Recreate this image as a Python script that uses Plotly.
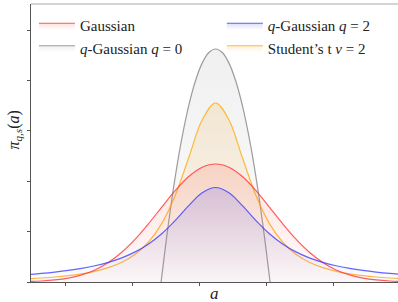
import plotly.graph_objects as go

# shared x grid (data units) for the three full-support curves
x_grid = [-2.56, -2.36, -2.16, -1.96, -1.76, -1.56, -1.36, -1.16, -0.96, -0.76,
          -0.56, -0.36, -0.16, 0.04, 0.24, 0.44, 0.64, 0.84, 1.04, 1.24,
          1.44, 1.64, 1.84, 2.04, 2.24, 2.44, 2.64, 2.84, 3.04]

gauss = [0.0094, 0.0201, 0.0407, 0.0777, 0.1404, 0.2395, 0.387, 0.590, 0.850, 1.158,
         1.492, 1.817, 2.092, 2.276, 2.341, 2.276, 2.092, 1.817, 1.492, 1.158,
         0.850, 0.590, 0.387, 0.2395, 0.1404, 0.0777, 0.0407, 0.0201, 0.0094]

qgauss2 = [0.1484, 0.1700, 0.1964, 0.2292, 0.2704, 0.3228, 0.3908, 0.4798, 0.5978, 0.7549,
           0.9617, 1.222, 1.515, 1.770, 1.875, 1.770, 1.515, 1.222, 0.9617, 0.7549,
           0.5978, 0.4798, 0.3908, 0.3228, 0.2704, 0.2292, 0.1964, 0.1700, 0.1484]

student_t = [0.0647, 0.0795, 0.0990, 0.1253, 0.1613, 0.2117, 0.2839, 0.3902, 0.5497, 0.794,
             1.169, 1.727, 2.469, 3.216, 3.552, 3.216, 2.469, 1.727, 1.169, 0.794,
             0.5497, 0.3902, 0.2839, 0.2117, 0.1613, 0.1253, 0.0990, 0.0795, 0.0647]

# compact-support q-Gaussian (q = 0)
x_q0 = [-0.573, -0.56, -0.46, -0.36, -0.26, -0.16, -0.06, 0.04, 0.14, 0.24,
        0.34, 0.44, 0.54, 0.64, 0.74, 0.84, 0.94, 1.04, 1.053]
qgauss0 = [0.0, 0.1466, 1.196, 2.105, 2.874, 3.504, 3.994, 4.343, 4.553, 4.623,
           4.553, 4.343, 3.994, 3.504, 2.874, 2.105, 1.196, 0.1466, 0.0]

x_ticks = [-2, -1, 0, 1, 2]
y_ticks = [0, 1, 2, 3, 4, 5]

names = {
    "gauss": "Gaussian",
    "q0": "<i>q</i>-Gaussian <i>q</i> = 0",
    "q2": "<i>q</i>-Gaussian <i>q</i> = 2",
    "t": "Student\u2019s t <i>\u03bd</i> = 2",
}


def grad(rgb, a):
    r, g, b = rgb
    return dict(type="vertical",
                colorscale=[[0, f"rgba({r},{g},{b},0.02)"], [1, f"rgba({r},{g},{b},{a})"]])


fig = go.Figure()
fig.add_trace(go.Scatter(x=x_q0, y=qgauss0, mode="lines", name=names["q0"],
                         legend="legend", legendrank=2,
                         line=dict(color="rgba(140,140,140,0.85)", width=1.2, shape="spline"),
                         fill="tozeroy", fillgradient=grad((160, 160, 160), 0.16)))
fig.add_trace(go.Scatter(x=x_grid, y=student_t, mode="lines", name=names["t"],
                         legend="legend2", legendrank=2,
                         line=dict(color="rgba(255,165,0,0.75)", width=1.2, shape="spline"),
                         fill="tozeroy", fillgradient=grad((240, 170, 60), 0.18)))
fig.add_trace(go.Scatter(x=x_grid, y=gauss, mode="lines", name=names["gauss"],
                         legend="legend", legendrank=1,
                         line=dict(color="rgba(255,40,40,0.75)", width=1.2, shape="spline"),
                         fill="tozeroy", fillgradient=grad((250, 90, 70), 0.18)))
fig.add_trace(go.Scatter(x=x_grid, y=qgauss2, mode="lines", name=names["q2"],
                         legend="legend2", legendrank=1,
                         line=dict(color="rgba(50,50,255,0.75)", width=1.2, shape="spline"),
                         fill="tozeroy", fillgradient=grad((90, 90, 255), 0.2)))

axis_common = dict(showgrid=False, zeroline=False, showline=True, linecolor="#555",
                   linewidth=1, ticks="outside", ticklen=3, tickcolor="#555",
                   tickwidth=1, showticklabels=False)

legend_common = dict(orientation="v", yanchor="top", xanchor="left", bgcolor="rgba(0,0,0,0)",
                     traceorder="normal", itemwidth=36,
                     font=dict(family="Liberation Serif", size=15, color="#222"))

fig.update_layout(
    width=398, height=302,
    margin=dict(l=31, r=0, t=4, b=20),
    paper_bgcolor="white", plot_bgcolor="white",
    font=dict(family="Liberation Serif", size=15, color="#222"),
    xaxis=dict(range=[-2.515, 2.963], tickvals=x_ticks, **axis_common),
    yaxis=dict(range=[0, 5.516], tickvals=y_ticks, **axis_common),
    showlegend=True,
    legend=dict(x=0.008, y=0.982, **legend_common),
    legend2=dict(x=0.520, y=0.982, **legend_common),
    shapes=[dict(type="line", xref="paper", yref="paper", x0=0, x1=1, y0=1, y1=1,
                 line=dict(color="#aaa", width=1))],
    annotations=[
        dict(text="<i>\u03c0</i><sub><i>q,s</i></sub>(<i>a</i>)", xref="paper", yref="paper",
             x=-0.046, y=0.545, textangle=-90, showarrow=False,
             xanchor="center", yanchor="middle",
             font=dict(family="Liberation Serif", size=16, color="#222")),
        dict(text="<i>a</i>", xref="paper", yref="paper", x=0.501, y=-0.08,
             showarrow=False, xanchor="center", yanchor="bottom", borderpad=0,
             font=dict(family="Liberation Serif", size=17, color="#222")),
    ],
)

fig.write_html("out.html", config={"displayModeBar": False},
               post_script="document.body.style.margin='0';")
